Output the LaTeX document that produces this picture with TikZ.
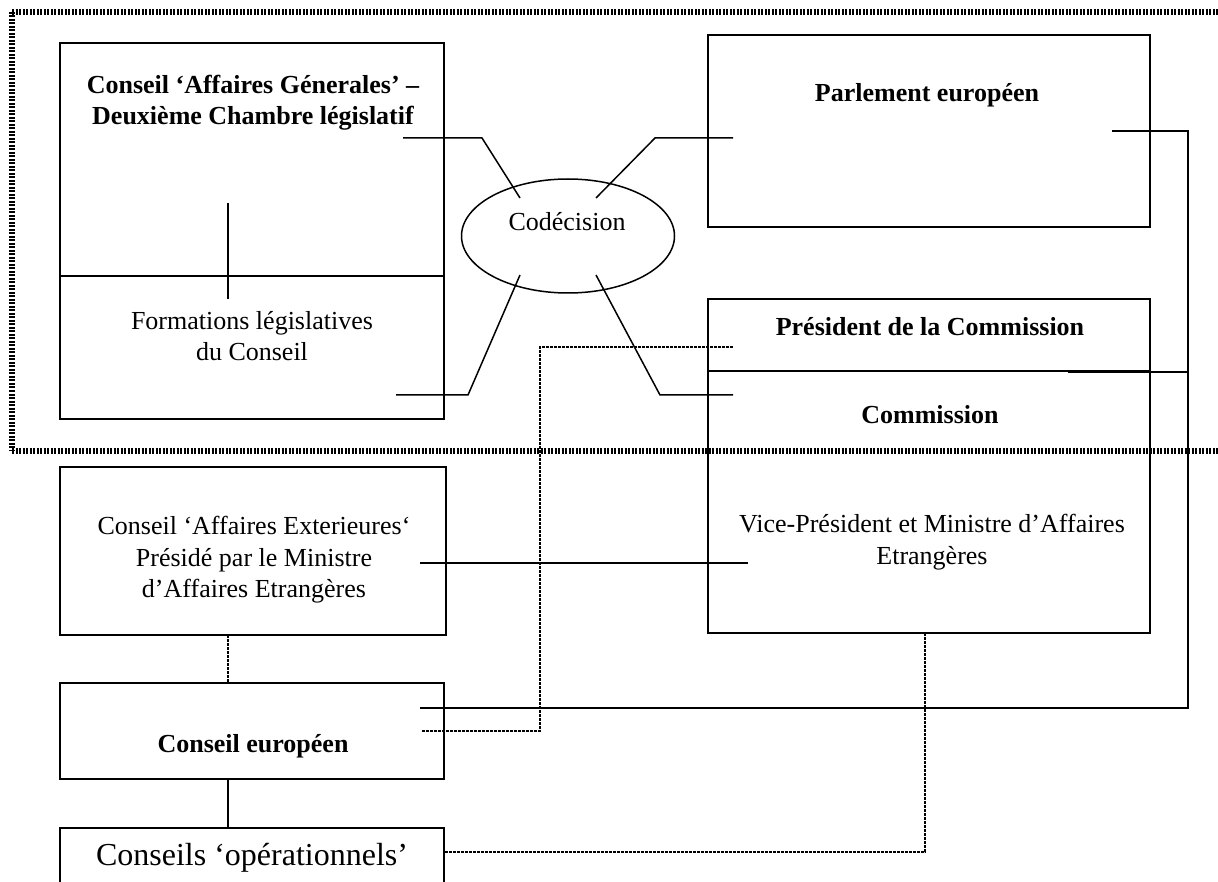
\documentclass[tikz,border=0pt]{standalone}
\usepackage{fontspec}
\setmainfont{Liberation Serif}
\usetikzlibrary{shapes.geometric}
\begin{document}
\begin{tikzpicture}[x=1pt,y=-1pt,
  box/.style={draw,line width=1.6pt,inner sep=0pt},
  conn/.style={line width=1.5pt},
  dotconn/.style={line width=1.6pt,dash pattern=on 3pt off 1pt},
  framestyle/.style={line width=6pt,dash pattern=on 2pt off 1.5pt},
  txt/.style={align=center,font=\fontsize{26}{31.5}\selectfont,inner sep=0pt},
  btxt/.style={align=center,font=\fontsize{26}{31}\selectfont\bfseries,inner sep=0pt},
  bigtxt/.style={align=center,font=\fontsize{32}{38}\selectfont,inner sep=0pt},
]
\useasboundingbox (0,0) rectangle (1218,882);
\clip (0,0) rectangle (1218,882);

% outer dotted frame
\coordinate (f1) at (12,12);
\coordinate (f2) at (1230,12);
\coordinate (f3) at (12,451);
\coordinate (f4) at (1230,451);
\draw[framestyle] (f1) -- (f2);
\draw[framestyle] (f1) -- (f3);
\draw[framestyle] (f3) -- (f4);

% boxes
\node[box,minimum width=384pt,minimum height=376pt] (ag) at (252,231) {};
\coordinate (agdl) at (60,276);
\coordinate (agdr) at (444,276);
\draw[conn] (agdl) -- (agdr);
\node[btxt] (agt) at (253,103) {Conseil ‘Affaires Génerales’ –\\Deuxième Chambre législatif};
\node[txt] (agf) at (252,336) {Formations législatives\\du Conseil};
\coordinate (v1) at (228,203);
\coordinate (v2) at (228,299);
\draw[conn] (v1) -- (v2);

\node[draw,line width=1.5pt,ellipse,minimum width=213pt,minimum height=114pt,inner sep=0pt] (cod) at (568,236) {};
\node[txt] (codt) at (567,222) {Codécision};

\node[box,minimum width=442pt,minimum height=192pt] (pe) at (929,131) {};
\node[btxt] (pet) at (927,95) {Parlement européen};

\node[box,minimum width=442pt,minimum height=334pt] (com) at (929,466) {};
\coordinate (cdl) at (708,371);
\coordinate (cdr) at (1150,371);
\draw[conn] (cdl) -- (cdr);
\node[btxt] (prt) at (930,327) {Président de la Commission};
\node[btxt] (comt) at (930,415) {Commission};
\node[txt] (vpt) at (932,542) {Vice-Président et Ministre d’Affaires\\Etrangères};

\node[box,minimum width=386pt,minimum height=168pt] (ae) at (253,551) {};
\node[txt] (aet) at (254,560) {Conseil ‘Affaires Exterieures‘\\Présidé par le Ministre\\d’Affaires Etrangères};

\node[box,minimum width=384pt,minimum height=96pt] (ce) at (252,731) {};
\node[btxt] (cet) at (253,746) {Conseil européen};

\node[box,minimum width=384pt,minimum height=120pt] (co) at (252,888) {};
\node[bigtxt] (cot) at (252,858) {Conseils ‘opérationnels’};

% connectors to Codécision
\coordinate (a1) at (403,138);
\coordinate (a2) at (482,138);
\coordinate (a3) at (520,198);
\draw[conn] (a1) -- (a2) -- (a3);
\coordinate (b1) at (733,138);
\coordinate (b2) at (655,138);
\coordinate (b3) at (596,198);
\draw[conn] (b1) -- (b2) -- (b3);
\coordinate (c1) at (396,395);
\coordinate (c2) at (468,395);
\coordinate (c3) at (520,275);
\draw[conn] (c1) -- (c2) -- (c3);
\coordinate (d1) at (733,395);
\coordinate (d2) at (660,395);
\coordinate (d3) at (596,275);
\draw[conn] (d1) -- (d2) -- (d3);

% Parlement -> Conseil europeen
\coordinate (e1) at (1112,131);
\coordinate (e2) at (1188,131);
\coordinate (e3) at (1188,708);
\coordinate (e4) at (420,708);
\draw[conn] (e1) -- (e2) -- (e3) -- (e4);
\coordinate (e5) at (1068,372);
\coordinate (e6) at (1188,372);
\draw[conn] (e5) -- (e6);

% President -> Conseil europeen (dotted)
\coordinate (p1) at (733,347);
\coordinate (p2) at (540,347);
\coordinate (p3) at (540,731);
\coordinate (p4) at (422,731);
\draw[dotconn] (p1) -- (p2) -- (p3) -- (p4);

% AE -> VP
\coordinate (g1) at (420,563);
\coordinate (g2) at (748,563);
\draw[conn] (g1) -- (g2);

% vertical links on the left
\coordinate (h1) at (228,635);
\coordinate (h2) at (228,683);
\draw[dotconn] (h1) -- (h2);
\coordinate (i1) at (228,779);
\coordinate (i2) at (228,828);
\draw[conn] (i1) -- (i2);

% Commission -> operationnels (dotted)
\coordinate (j1) at (925,633);
\coordinate (j2) at (925,852);
\coordinate (j3) at (444,852);
\draw[dotconn] (j1) -- (j2) -- (j3);
\end{tikzpicture}
\end{document}
